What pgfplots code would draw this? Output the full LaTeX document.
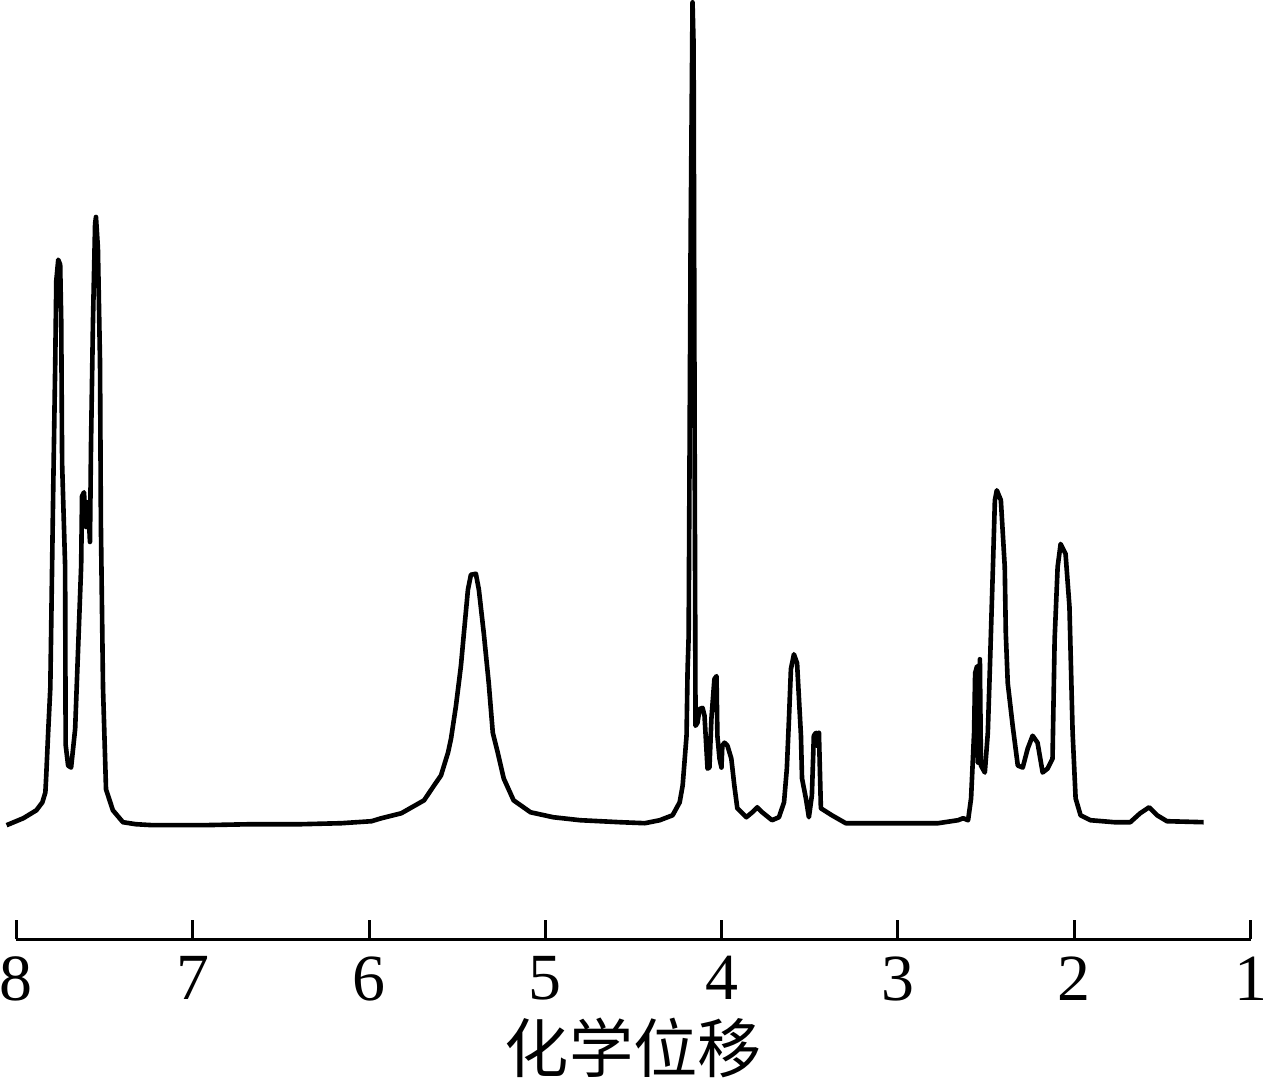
\documentclass[border=0pt]{standalone}
\usepackage{fontspec}
\setmainfont{Liberation Serif}
\newfontfamily\cjk{Noto Sans CJK SC}
\usepackage{pgfplots}
\pgfplotsset{compat=1.18}

\begin{document}
\begin{tikzpicture}
\begin{axis}[
    scale only axis,
    width=374.5pt, height=285pt,
    xmin=1, xmax=8, ymin=0, ymax=945,
    x dir=reverse,
    clip=false,
    axis y line=none,
    axis x line*=bottom,
    axis line style={line width=1.2pt},
    xtick={1,2,3,4,5,6,7,8},
    tick align=inside,
    major tick length=6pt,
    tick style={line width=0.9pt, black},
    /pgf/number format/assume math mode=true,
    xticklabel style={font=\fontsize{20}{20}\selectfont, inner sep=0pt, yshift=-5pt},
    xlabel={\cjk\fontsize{19.5}{19.5}\selectfont 化学位移},
    xlabel style={inner sep=0pt, yshift=-5pt},
]
\addplot[black, line width=1.4pt, line join=round] coordinates {
(8.056,115) (7.961,122) (7.887,130) (7.853,138) (7.836,148) (7.831,165)
(7.820,209) (7.808,253) (7.791,458) (7.780,581) (7.774,663) (7.763,684)
(7.752,679) (7.746,622) (7.741,479) (7.724,376) (7.721,196) (7.707,175)
(7.690,173) (7.667,212) (7.650,294) (7.633,376) (7.628,446) (7.617,450)
(7.605,415) (7.594,440) (7.583,400) (7.577,499) (7.566,622) (7.554,720)
(7.549,727) (7.538,696) (7.526,581) (7.521,417) (7.509,253) (7.492,151)
(7.453,130) (7.396,118) (7.323,116) (7.227,115) (6.945,115) (6.663,116)
(6.381,116) (6.156,117) (5.986,119)
(5.930,122) (5.817,127) (5.688,140) (5.631,155) (5.592,165) (5.552,188)
(5.535,202) (5.507,235) (5.479,275) (5.462,308) (5.439,352) (5.422,367)
(5.394,368) (5.377,352) (5.349,308) (5.321,258) (5.298,208) (5.270,188)
(5.236,162) (5.180,140) (5.084,128) (4.955,123) (4.802,120) (4.576,118)
(4.435,117) (4.351,120) (4.278,125) (4.238,138) (4.221,155) (4.199,205)
(4.193,272) (4.187,305) (4.176,700) (4.165,943) (4.159,900) (4.153,500)
(4.148,215) (4.137,218) (4.125,232) (4.108,233) (4.097,225) (4.080,172)
(4.069,173) (4.058,222) (4.041,262) (4.029,265) (4.024,205) (4.012,182)
(4.001,173) (3.996,195) (3.984,198) (3.967,195) (3.945,182) (3.928,155)
(3.911,132) (3.860,123) (3.826,128) (3.798,133) (3.770,128) (3.714,120)
(3.675,123) (3.646,138) (3.630,172) (3.618,222) (3.607,272) (3.590,287)
(3.572,278) (3.550,205) (3.544,162) (3.522,142) (3.505,123) (3.488,145)
(3.477,205) (3.465,208) (3.460,195) (3.448,208) (3.437,132) (3.375,125)
(3.296,117) (3.223,117) (2.997,117) (2.772,117) (2.659,120) (2.630,122)
(2.602,120) (2.585,142) (2.568,208) (2.562,268) (2.551,275) (2.546,178)
(2.535,282) (2.529,175) (2.507,168) (2.490,208) (2.478,275) (2.461,375)
(2.450,442) (2.439,452) (2.416,442) (2.394,375) (2.388,308) (2.377,258)
(2.349,215) (2.320,175) (2.292,173) (2.264,192) (2.236,205) (2.208,198)
(2.179,168) (2.151,172) (2.123,182) (2.111,302) (2.094,375) (2.077,398)
(2.049,388) (2.027,335) (2.009,208) (1.992,142) (1.964,125) (1.908,120)
(1.773,118) (1.682,118) (1.626,127) (1.575,133) (1.530,125) (1.474,119)
(1.266,118)
};
\end{axis}
\end{tikzpicture}
\end{document}
